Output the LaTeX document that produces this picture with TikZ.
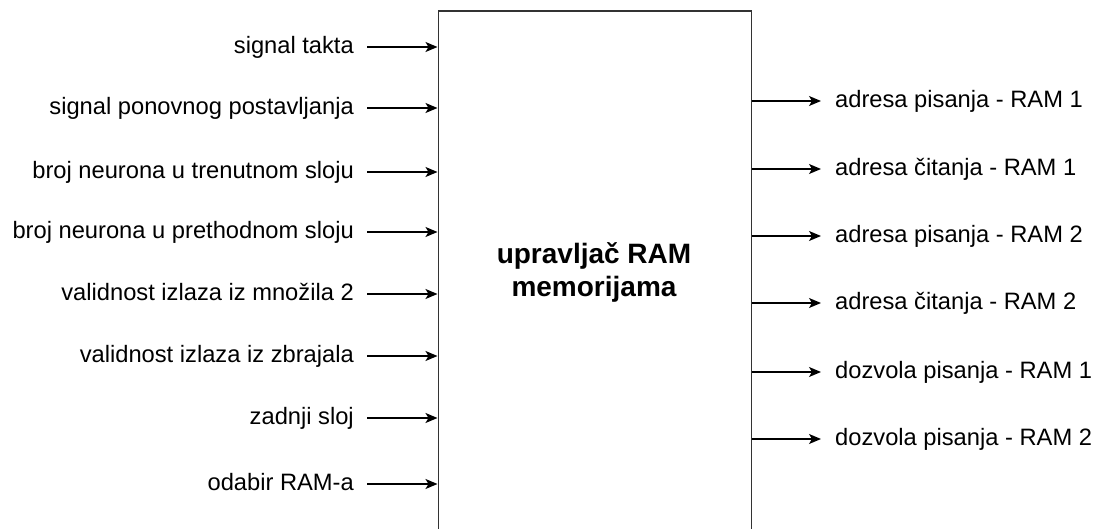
\documentclass[tikz,border=0pt]{standalone}
\usepackage{fontspec}
\setmainfont{Liberation Sans}
\usetikzlibrary{arrows.meta}
\begin{document}
\begin{tikzpicture}[x=1pt,y=-1pt,
  lbl/.style={inner sep=0pt, font=\fontsize{23.7}{28}\selectfont, text height=18pt, text depth=4.8pt},
  ttl/.style={inner sep=0pt, font=\fontsize{28}{33.4}\selectfont\bfseries, anchor=base},
  arr/.style={line width=1.4pt, -{Stealth[length=12pt,width=10pt,inset=3pt]}},
  blockbox/.style={draw=black!80, line width=1.5pt, minimum width=313pt, minimum height=560pt, inner sep=0pt, anchor=north west}
]
\useasboundingbox (0,0) rectangle (1101,529);
\node[blockbox] (box) at (437.5,10.5) {};
\node[ttl] (title1) at (594,263.3) {upravljač RAM};
\node[ttl] (title2) at (594,296.7) {memorijama};
% inputs
\foreach \n/\y/\t in {i1/47/signal takta, i2/108/signal ponovnog postavljanja, i3/172/broj neurona u trenutnom sloju, i4/232/broj neurona u prethodnom sloju, i5/294/validnost izlaza iz množila 2, i6/356/validnost izlaza iz zbrajala, i7/418/zadnji sloj, i8/484/odabir RAM-a}{
  \node[lbl, anchor=east] (\n) at (354,\y) {\t};
  \draw[arr] ([xshift=13pt]\n.east) -- (\n.east -| box.west);
}
% outputs
\foreach \n/\y/\t in {o1/101/adresa pisanja - RAM 1, o2/169/adresa čitanja - RAM 1, o3/236/adresa pisanja - RAM 2, o4/303/adresa čitanja - RAM 2, o5/372/dozvola pisanja - RAM 1, o6/439/dozvola pisanja - RAM 2}{
  \node[lbl, anchor=west] (\n) at (835,\y) {\t};
  \draw[arr] (\n.west -| box.east) -- ([xshift=-14pt]\n.west);
}
\end{tikzpicture}
\end{document}
